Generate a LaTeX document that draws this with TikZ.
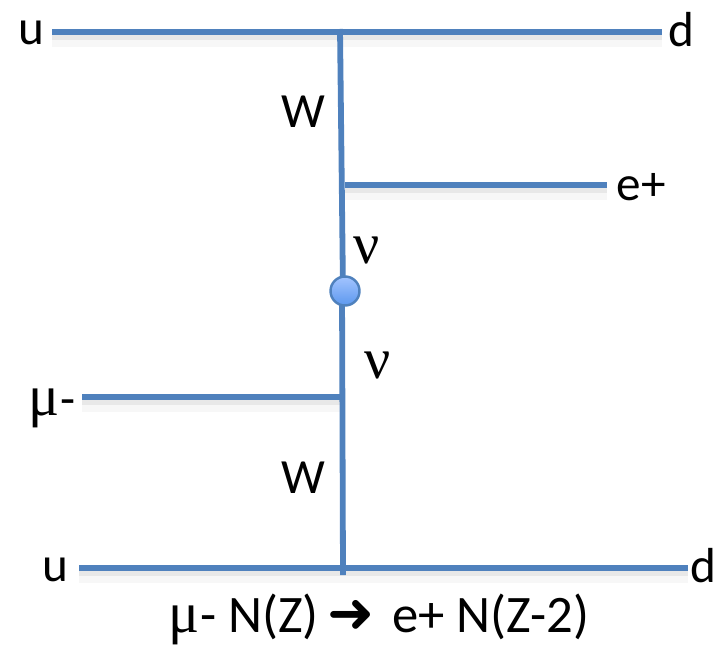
\documentclass[tikz,border=0pt]{standalone}
\usepackage{fontspec}
\setmainfont{Carlito}
\newfontfamily\greekfont{Liberation Serif}
\newfontfamily\arrowfont{DejaVu Sans}
\usepackage{tikz}
\definecolor{LineBlue}{RGB}{79,129,189}
\definecolor{BallTop}{RGB}{163,196,255}
\definecolor{BallBot}{RGB}{92,152,238}
\newcommand{\grk}[1]{{\greekfont\fontsize{33}{33}\selectfont #1}}
\begin{document}
\begin{tikzpicture}[
          x=0.02cm, y=-0.02cm,
          prop/.style={line width=3.3pt, LineBlue, line cap=butt},
          haze/.style={line width=3.5pt, black, opacity=0.06},
          hazewide/.style={line width=7pt, black, opacity=0.03},
          lbl/.style={font=\fontsize{28}{32}\selectfont, inner sep=0pt, text=black},
          ball/.style={circle, minimum size=0.58cm, inner sep=0pt, draw=LineBlue,
                       line width=1.4pt, top color=BallTop, bottom color=BallBot}
        ]
        \useasboundingbox (0,0) rectangle (715,648);
        % end points of the lines
        \coordinate (ua) at (52,32);
        \coordinate (da) at (662,32);
        \coordinate (wa) at (340,29);
        \coordinate (wb) at (343,291);
        \coordinate (wc) at (342,291);
        \coordinate (wd) at (343,575);
        \coordinate (ea) at (345,185);
        \coordinate (eb) at (607,185);
        \coordinate (ma) at (82,397);
        \coordinate (mb) at (342,397);
        \coordinate (ub) at (79,568);
        \coordinate (db) at (688,568);

        % soft shadows under the lines
        \foreach \a/\b in {ua/da, ea/eb, ma/mb, ub/db} {
          \draw[hazewide] ([yshift=-5pt]\a)--([yshift=-5pt]\b);
          \draw[haze] ([yshift=-3pt]\a)--([yshift=-3pt]\b);
        }

        % lines
        \draw[prop] (ua)--(da);
        \draw[prop] (wa)--(wb);
        \draw[prop] (wc)--(wd);
        \draw[prop] (ea)--(eb);
        \draw[prop] (ma)--(mb);
        \draw[prop] (ub)--(db);
        \node[ball] (vertex) at (345,291) {};

        % labels
        \node[lbl] (utop) at (31,33) {u};
        \node[lbl] (dtop) at (681,30) {d};
        \node[lbl] (wtop) at (303,112) {W};
        \node[lbl] (epos) at (641,187) {e+};
        \node[lbl] (nutop) at (367,250) {\grk{ν}};
        \node[lbl] (nubot) at (378,365) {\grk{ν}};
        \node[lbl] (muon) at (52,408) {\grk{μ}-};
        \node[lbl] (wbot) at (303,478) {W};
        \node[lbl] (ubot) at (55,570) {u};
        \node[lbl] (dbot) at (703,566) {d};
        \node[lbl, font=\fontsize{30}{34}\selectfont, anchor=base] (decay) at (379,632)
              {\grk{μ}- N(Z)\,{\arrowfont\fontsize{32}{32}\selectfont ➜}\,\,e+ N(Z-2)};
      \end{tikzpicture}
\end{document}
